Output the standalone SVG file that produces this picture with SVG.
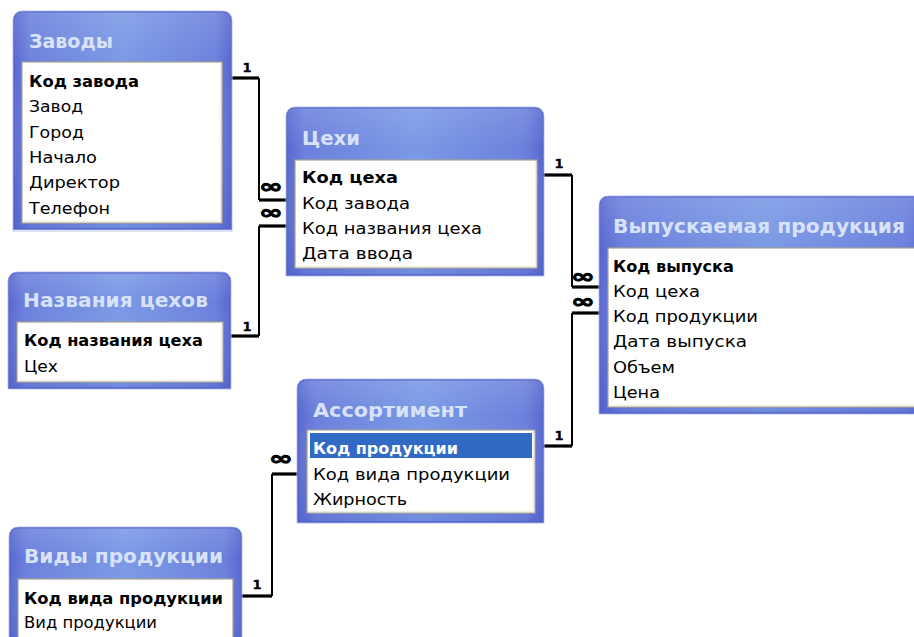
<svg xmlns="http://www.w3.org/2000/svg" width="914" height="637" viewBox="0 0 914 637">
  <defs>
    <linearGradient id="frameGrad" x1="0" y1="0" x2="1" y2="0">
      <stop offset="0" stop-color="#5A67D0"/>
      <stop offset="0.07" stop-color="#6B80DC"/>
      <stop offset="0.5" stop-color="#7A99E5"/>
      <stop offset="0.93" stop-color="#6B80DC"/>
      <stop offset="1" stop-color="#5A67D0"/>
    </linearGradient>
    <linearGradient id="frameShade" x1="0" y1="0" x2="0" y2="1">
      <stop offset="0" stop-color="#FFFFFF" stop-opacity="0.12"/>
      <stop offset="0.25" stop-color="#FFFFFF" stop-opacity="0"/>
      <stop offset="1" stop-color="#3040B0" stop-opacity="0.15"/>
    </linearGradient>
  </defs>
  <style>
    .frame { fill: url(#frameGrad); stroke: #5565CC; stroke-width: 1.5; }
    .shade { fill: url(#frameShade); stroke: none; }
    .halo { fill: none; stroke: #B9C3F1; stroke-width: 1; }
    .list { fill: #FFFFFF; stroke: #A5A28E; stroke-width: 1.2; }
    .listin { fill: none; stroke: #F1EFE2; stroke-width: 1.5; }
    .title { font-family: "DejaVu Sans", "Liberation Sans", sans-serif; font-weight: bold; font-size: 19.5px; fill: #D8E2F8; }
    .row { font-family: "DejaVu Sans", "Liberation Sans", sans-serif; font-size: 16.5px; fill: #000000; }
    .key { font-weight: bold; }
    .sel { fill: #316AC5; }
    .selt { fill: #FFFFFF; }
    .stub { stroke: #000000; stroke-width: 3.2; fill: none; }
    .wire { stroke: #000000; stroke-width: 2; fill: none; }
    .one { font-family: "DejaVu Sans", "Liberation Sans", sans-serif; font-weight: bold; font-size: 13px; fill: #000000; text-anchor: middle; stroke: #000000; stroke-width: 0.4; }
    .many { font-family: "DejaVu Sans", "Liberation Sans", sans-serif; font-weight: bold; font-size: 19px; fill: #000000; text-anchor: middle; stroke: #000000; stroke-width: 0.9; }
  </style>

  <!-- relationship lines -->
  <g id="connectors">
    <!-- Заводы 1 : ∞ Цехи -->
    <path class="stub" d="M231 78 H259"/>
    <path class="wire" d="M259 78 V200"/>
    <path class="stub" d="M259 200 H287"/>
    <text class="one" x="247" y="72">1</text>
    <text class="many" transform="translate(271 193) scale(1.5 1)">∞</text>
    <!-- Названия цехов 1 : ∞ Цехи -->
    <path class="stub" d="M230 336 H259"/>
    <path class="wire" d="M259 336 V226"/>
    <path class="stub" d="M259 226 H287"/>
    <text class="one" x="247" y="331">1</text>
    <text class="many" transform="translate(271 219) scale(1.5 1)">∞</text>
    <!-- Цехи 1 : ∞ Выпускаемая продукция -->
    <path class="stub" d="M543 175 H572"/>
    <path class="wire" d="M572 175 V287"/>
    <path class="stub" d="M572 287 H600"/>
    <text class="one" x="559" y="168">1</text>
    <text class="many" transform="translate(583 283) scale(1.5 1)">∞</text>
    <!-- Ассортимент 1 : ∞ Выпускаемая продукция -->
    <path class="stub" d="M543 446 H572"/>
    <path class="wire" d="M572 446 V313"/>
    <path class="stub" d="M572 313 H600"/>
    <text class="one" x="559" y="440">1</text>
    <text class="many" transform="translate(583 308) scale(1.5 1)">∞</text>
    <!-- Виды продукции 1 : ∞ Ассортимент -->
    <path class="stub" d="M240 596 H272"/>
    <path class="wire" d="M272 596 V474"/>
    <path class="stub" d="M272 474 H298"/>
    <text class="one" x="257" y="589">1</text>
    <text class="many" transform="translate(281 465) scale(1.5 1)">∞</text>
  </g>

  <!-- Заводы -->
  <g id="zavody">
    <path class="halo" d="M13 229 V21 Q13 11 23 11 H222 Q232 11 232 21 V231 H13 Z"/>
    <path class="frame" d="M14 229 V21 Q14 12 23 12 H222 Q231 12 231 21 V229 Z"/>
    <path class="shade" d="M14 229 V21 Q14 12 23 12 H222 Q231 12 231 21 V229 Z"/>
    <rect class="list" x="22" y="62" width="200" height="161"/>
    <path class="listin" d="M23.5 221.5 H220.5 V63.5"/>
    <text class="title" x="29" y="48" textLength="84" lengthAdjust="spacingAndGlyphs">Заводы</text>
    <text class="row key" x="29" y="87" textLength="110" lengthAdjust="spacingAndGlyphs">Код завода</text>
    <text class="row" x="29" y="112" textLength="54" lengthAdjust="spacingAndGlyphs">Завод</text>
    <text class="row" x="29" y="137.5" textLength="55" lengthAdjust="spacingAndGlyphs">Город</text>
    <text class="row" x="29" y="163" textLength="68" lengthAdjust="spacingAndGlyphs">Начало</text>
    <text class="row" x="29" y="188" textLength="91" lengthAdjust="spacingAndGlyphs">Директор</text>
    <text class="row" x="29" y="213.5" textLength="81" lengthAdjust="spacingAndGlyphs">Телефон</text>
  </g>

  <!-- Цехи -->
  <g id="tsekhi">
    <path class="halo" d="M286 276 V117 Q286 107 296 107 H534 Q544 107 544 117 V276 Z"/>
    <path class="frame" d="M287 275 V117 Q287 108 296 108 H534 Q543 108 543 117 V275 Z"/>
    <path class="shade" d="M287 275 V117 Q287 108 296 108 H534 Q543 108 543 117 V275 Z"/>
    <rect class="list" x="295" y="160" width="242" height="108"/>
    <path class="listin" d="M296.5 266.5 H535.5 V161.5"/>
    <text class="title" x="302" y="145" textLength="58" lengthAdjust="spacingAndGlyphs">Цехи</text>
    <text class="row key" x="302" y="183" textLength="96" lengthAdjust="spacingAndGlyphs">Код цеха</text>
    <text class="row" x="302" y="208.5" textLength="108" lengthAdjust="spacingAndGlyphs">Код завода</text>
    <text class="row" x="302" y="234" textLength="180" lengthAdjust="spacingAndGlyphs">Код названия цеха</text>
    <text class="row" x="302" y="259" textLength="111" lengthAdjust="spacingAndGlyphs">Дата ввода</text>
  </g>

  <!-- Выпускаемая продукция -->
  <g id="vypusk">
    <path class="halo" d="M599 414 V206 Q599 196 609 196 H930 V414 Z"/>
    <path class="frame" d="M600 413 V206 Q600 197 609 197 H930 V413 Z"/>
    <path class="shade" d="M600 413 V206 Q600 197 609 197 H930 V413 Z"/>
    <rect class="list" x="608" y="248" width="330" height="159"/>
    <path class="listin" d="M609.5 405.5 H930"/>
    <text class="title" x="613" y="233" textLength="292" lengthAdjust="spacingAndGlyphs">Выпускаемая продукция</text>
    <text class="row key" x="613" y="271.5" textLength="121" lengthAdjust="spacingAndGlyphs">Код выпуска</text>
    <text class="row" x="613" y="297" textLength="87" lengthAdjust="spacingAndGlyphs">Код цеха</text>
    <text class="row" x="613" y="322" textLength="145" lengthAdjust="spacingAndGlyphs">Код продукции</text>
    <text class="row" x="613" y="347" textLength="134" lengthAdjust="spacingAndGlyphs">Дата выпуска</text>
    <text class="row" x="613" y="372.5" textLength="62" lengthAdjust="spacingAndGlyphs">Объем</text>
    <text class="row" x="613" y="397.5" textLength="47" lengthAdjust="spacingAndGlyphs">Цена</text>
  </g>

  <!-- Названия цехов -->
  <g id="nazvaniya">
    <path class="halo" d="M8 389 V282 Q8 272 18 272 H221 Q231 272 231 282 V389 Z"/>
    <path class="frame" d="M9 388 V282 Q9 273 18 273 H221 Q230 273 230 282 V388 Z"/>
    <path class="shade" d="M9 388 V282 Q9 273 18 273 H221 Q230 273 230 282 V388 Z"/>
    <rect class="list" x="17" y="322" width="206" height="60"/>
    <path class="listin" d="M18.5 380.5 H221.5 V323.5"/>
    <text class="title" x="23" y="307" textLength="185" lengthAdjust="spacingAndGlyphs">Названия цехов</text>
    <text class="row key" x="24" y="346" textLength="179" lengthAdjust="spacingAndGlyphs">Код названия цеха</text>
    <text class="row" x="24" y="372" textLength="34" lengthAdjust="spacingAndGlyphs">Цех</text>
  </g>

  <!-- Ассортимент -->
  <g id="assortiment">
    <path class="halo" d="M297 523 V389 Q297 379 307 379 H534 Q544 379 544 389 V523 Z"/>
    <path class="frame" d="M298 522 V389 Q298 380 307 380 H534 Q543 380 543 389 V522 Z"/>
    <path class="shade" d="M298 522 V389 Q298 380 307 380 H534 Q543 380 543 389 V522 Z"/>
    <rect class="list" x="307" y="430" width="228" height="83"/>
    <path class="listin" d="M308.5 511.5 H533.5 V431.5"/>
    <rect class="sel" x="310" y="433" width="222" height="25"/>
    <text class="title" x="313" y="417" textLength="154" lengthAdjust="spacingAndGlyphs">Ассортимент</text>
    <text class="row key selt" x="313" y="454" textLength="145" lengthAdjust="spacingAndGlyphs">Код продукции</text>
    <text class="row" x="313" y="479.5" textLength="197" lengthAdjust="spacingAndGlyphs">Код вида продукции</text>
    <text class="row" x="313" y="505" textLength="94" lengthAdjust="spacingAndGlyphs">Жирность</text>
  </g>

  <!-- Виды продукции -->
  <g id="vidy">
    <path class="halo" d="M9 650 V537 Q9 527 19 527 H232 Q242 527 242 537 V650 Z"/>
    <path class="frame" d="M10 650 V537 Q10 528 19 528 H232 Q241 528 241 537 V650 Z"/>
    <path class="shade" d="M10 650 V537 Q10 528 19 528 H232 Q241 528 241 537 V650 Z"/>
    <rect class="list" x="18" y="579" width="215" height="80"/>
    <text class="title" x="24" y="563" textLength="199" lengthAdjust="spacingAndGlyphs">Виды продукции</text>
    <text class="row key" x="24" y="603.5" textLength="199" lengthAdjust="spacingAndGlyphs">Код вида продукции</text>
    <text class="row" x="24" y="628" textLength="133" lengthAdjust="spacingAndGlyphs">Вид продукции</text>
  </g>
</svg>
